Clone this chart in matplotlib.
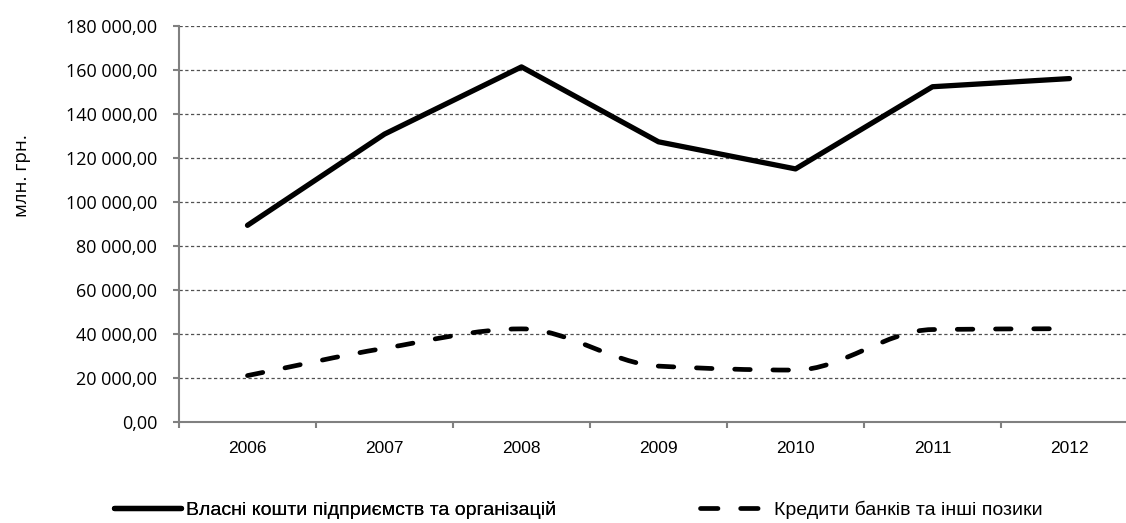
import matplotlib
matplotlib.use("Agg")
import matplotlib.pyplot as plt
from matplotlib.path import Path
from matplotlib.patches import PathPatch
from matplotlib.lines import Line2D
from matplotlib.ticker import FuncFormatter, FixedLocator

years = ["2006", "2007", "2008", "2009", "2010", "2011", "2012"]
own_funds = [89400, 130800, 161300, 127300, 115000, 152300, 156000]
bank_loans = [21200, 33600, 42400, 25500, 23700, 42100, 42500]
series_names = ["Власні кошти підприємств та організацій", "Кредити банків та інші позики"]
y_label = "млн. грн."
y_ticks = [0, 20000, 40000, 60000, 80000, 100000, 120000, 140000, 160000, 180000]

W, H = 1126, 523
fig = plt.figure(figsize=(W / 100, H / 100), dpi=100)
left, right, top, bottom = 179, 1138, 25.7, 422.3
ax = fig.add_axes([left / W, (H - bottom) / H, (right - left) / W, (bottom - top) / H])

x = list(range(len(years)))
grey = "#808080"

ax.set_ylim(0, 180000)
ax.set_xlim(-0.5, len(years) - 0.5)
ax.yaxis.set_major_locator(FixedLocator(y_ticks))
ax.grid(axis="y", color="#505050", linestyle=(0, (2.6, 2.0)), linewidth=0.9)
ax.set_axisbelow(True)

# solid series
ax.plot(x, own_funds, color="black", linewidth=3.8, solid_capstyle="round",
        solid_joinstyle="round", zorder=3)

# smoothed dashed series: monotone cubic (Fritsch-Carlson) tangents -> Bezier in data coords
n = len(bank_loans)
slopes = [(bank_loans[i + 1] - bank_loans[i]) / (x[i + 1] - x[i]) for i in range(n - 1)]
tang = [0.0] * n
tang[0] = slopes[0]
tang[-1] = slopes[-1]
for i in range(1, n - 1):
    a, b = slopes[i - 1], slopes[i]
    if a * b <= 0:
        tang[i] = 0.0
    else:
        tang[i] = 2 * a * b / (a + b)
verts = [(x[0], bank_loans[0])]
codes = [Path.MOVETO]
for i in range(n - 1):
    h = x[i + 1] - x[i]
    c1 = (x[i] + h / 3, bank_loans[i] + tang[i] * h / 3)
    c2 = (x[i + 1] - h / 3, bank_loans[i + 1] - tang[i + 1] * h / 3)
    verts += [c1, c2, (x[i + 1], bank_loans[i + 1])]
    codes += [Path.CURVE4] * 3
patch = PathPatch(Path(verts, codes), facecolor="none", edgecolor="black",
                  linewidth=3.4, linestyle=(0, (3.3, 4.8)), capstyle="round",
                  joinstyle="round", zorder=3)
ax.add_patch(patch)

# spines
for s in ["top", "right"]:
    ax.spines[s].set_visible(False)
for s in ["left", "bottom"]:
    ax.spines[s].set_color(grey)
    ax.spines[s].set_linewidth(1.5)

tick_font = ["Open Sans", "DejaVu Sans"]
narrow_font = ["Liberation Sans", "DejaVu Sans"]

def fmt(v, pos):
    return f"{v:,.2f}".replace(",", " ").replace(".", ",")

ax.yaxis.set_major_formatter(FuncFormatter(fmt))
ax.tick_params(axis="y", length=4.3, width=1.5, color=grey, pad=11.5, labelsize=13)
for lab in ax.get_yticklabels():
    lab.set_family(tick_font)

ax.set_xticks(x)
ax.set_xticklabels(years)
ax.set_xticks([i - 0.5 for i in range(len(years) + 1)], minor=True)
ax.tick_params(axis="x", which="major", length=0, pad=13.5, labelsize=12.5)
ax.tick_params(axis="x", which="minor", length=4.3, width=1.5, color=grey)
for lab in ax.get_xticklabels():
    lab.set_family(narrow_font)

fig.text(22 / W, (H - 176) / H, y_label, rotation=90, ha="center", va="center",
         fontsize=13.5, family=tick_font)

leg_y = (H - 510) / H
leg_prop = {"family": narrow_font, "size": 14}
h1 = Line2D([], [], color="black", linewidth=3.8, solid_capstyle="round")
h2 = Line2D([], [], color="black", linewidth=3.4, linestyle=(0, (3.7, 4.8)),
            dash_capstyle="round")
leg1 = fig.legend([h1], [series_names[0]], loc="center left",
                  bbox_to_anchor=(114 / W, leg_y), frameon=False,
                  handlelength=3.45, handletextpad=0.25, prop=leg_prop,
                  borderaxespad=0, borderpad=0)
fig.add_artist(leg1)
fig.legend([h2], [series_names[1]], loc="center left",
           bbox_to_anchor=(700 / W, leg_y), frameon=False,
           handlelength=3.0, handletextpad=0.8, prop=leg_prop,
           borderaxespad=0, borderpad=0)

fig.savefig("out.png", dpi=100)
